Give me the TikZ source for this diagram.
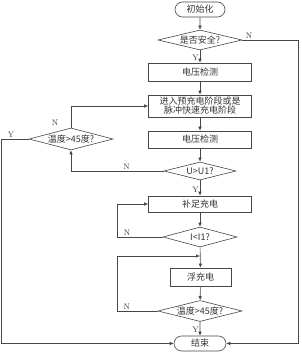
\documentclass[tikz,border=0pt]{standalone}
\usepackage{fontspec}
\newfontfamily\cjk{Noto Sans CJK SC}
\usetikzlibrary{shapes.geometric,shapes.misc,arrows.meta}
\begin{document}
\begin{tikzpicture}[x=1pt,y=-1pt,
  font=\cjk\fontsize{9}{10.5}\selectfont,
  line/.style={draw=black!72, line width=0.6pt},
  arr/.style={line, -{Latex[length=4pt,width=3.6pt]}},
  box/.style={line, rectangle, minimum width=103pt, minimum height=17pt, inner sep=0pt, align=center, text=black!80},
  dia/.style={line, diamond, inner sep=0pt, text=black!80},
  term/.style={line, rounded rectangle, minimum width=50pt, minimum height=15pt, inner sep=0pt, text=black!80},
  lab/.style={font=\rmfamily\fontsize{8}{9}\selectfont, text=black!80, inner sep=1pt}]
\useasboundingbox (0,0) rectangle (301,352);

\node[term] (init) at (200,9.5) {初始化};
\node[dia, minimum width=84pt, minimum height=20pt] (safe) at (200,40) {\makebox[0pt]{是否安全?}};
\node[box, minimum height=18pt] (v1) at (200,72) {电压检测};
\node[box, minimum height=22pt] (pre) at (200,106) {进入预充电阶段或是\\[-1.5pt]脉冲快速充电阶段};
\node[box] (v2) at (200,139.5) {电压检测};
\node[dia, minimum width=72pt, minimum height=18pt] (udia) at (200,171) {\makebox[0pt]{U>U1?}};
\node[dia, minimum width=84pt, minimum height=22pt] (t1) at (71,139) {\makebox[0pt]{温度>45度?}};
\node[box, minimum height=16pt] (bz) at (200,204) {补足充电};
\node[dia, minimum width=74pt, minimum height=20pt] (idia) at (200,237) {\makebox[0pt]{I<I1?}};
\node[box, minimum width=61pt, minimum height=18pt] (fc) at (200.5,277) {浮充电};
\node[dia, minimum width=84pt, minimum height=21pt] (t2) at (200,311) {\makebox[0pt]{温度>45度?}};
\node[term, minimum width=52pt] (end) at (200,343.5) {结束};

\coordinate (cR) at (298,40);
\coordinate (cL) at (1.5,139);
\coordinate (cU) at (71,171);
\coordinate (cI) at (117,237);
\coordinate (cT2) at (117,311);
\coordinate (jn) at (200,256);
\coordinate (cP) at (71,106);

\draw[arr] (init) -- (safe);
\draw[arr] (safe) -- node[lab, left, pos=0.6]{Y} (v1);
\draw[arr] (v1) -- (pre);
\draw[arr] (pre) -- (v2);
\draw[arr] (v2) -- (udia);
\draw[arr] (udia) -- node[lab, left, pos=0.6]{Y} (bz);
\draw[line] (udia.west) -- node[lab, above, pos=0.4]{N} (cU);
\draw[arr] (cU) -- (t1.south);
\draw[line] (t1.north) -- (cP);
\node[lab] (nT1) at (55,123) {N};
\draw[arr] (cP) -- (pre.west);
\draw[arr] (t1.west) -- node[lab, above, pos=0.65]{Y} (cL) |- (end.west);
\draw[arr] (safe.east) -- node[lab, above, pos=0.12]{N} (cR) |- (end.east);
\draw[arr] (bz) -- (idia);
\draw[arr] (idia.west) -- node[lab, above, pos=0.78]{N} (cI) |- (bz.west);
\draw[arr] (idia) -- (fc);
\draw[arr] (t2.west) -- node[lab, above, pos=0.76]{N} (cT2) |- (jn);
\draw[arr] (fc) -- (t2);
\draw[arr] (t2) -- node[lab, left, pos=0.6]{Y} (end);
\end{tikzpicture}
\end{document}
